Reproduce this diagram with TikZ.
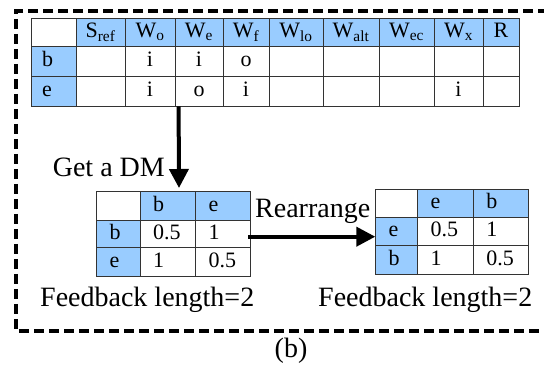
\documentclass[tikz,border=0pt]{standalone}
\usepackage{fontspec}
\setmainfont{Liberation Serif}
\usetikzlibrary{arrows.meta}
\definecolor{hdr}{HTML}{99CCFF}
\definecolor{cellrule}{HTML}{333333}

% horizontal padding of left-aligned cell text
\def\padx{11}
% \tcell{name}{x0}{y0}{x1}{y1}{options}{text}: one table cell
\newcommand\tcell[7]{%
  \pgfmathsetmacro\cw{#4-#2}%
  \pgfmathsetmacro\chh{#5-#3}%
  \pgfmathsetmacro\tw{#4-#2-2*\padx}%
  \node[cellbox,minimum width=\cw pt,minimum height=\chh pt,#6] (#1)
    at ({(#2+#4)/2},{(#3+#5)/2}) {#7};}

\tikzset{
  cellbox/.style={draw=cellrule, line width=0.8pt, fill=white, inner sep=0pt,
    text height=15pt, text depth=4pt, font=\fontsize{22}{26}\selectfont},
  lft/.style={inner xsep=\padx pt, text width=\tw pt, align=left},
  bigtext/.style={inner sep=0pt, font=\fontsize{28}{32}\selectfont},
  bigarrow/.style={line width=4pt, -{Triangle[length=19pt,width=19pt]}},
  frame/.style={line width=3.5pt, dash pattern=on 10pt off 5pt}
}

\begin{document}
\begin{tikzpicture}[x=1pt,y=-1pt]
\useasboundingbox (0,0) rectangle (544,371);

% dashed frame (open on the right)
\draw[frame] (548,11) -- (16,11) -- (16,331) -- (548,331);

% ---- window table ----
\tcell{T0}{31}{18}{76}{46}{}{}
\foreach \n/\a/\b/\t in {1/76/125/{S\textsubscript{ref}},2/125/175/{W\textsubscript{o}},
  3/175/223/{W\textsubscript{e}},4/223/269/{W\textsubscript{f}},5/269/323/{W\textsubscript{lo}},
  6/323/379/{W\textsubscript{alt}},7/379/434/{W\textsubscript{ec}},8/434/483/{W\textsubscript{x}},
  9/483/519/R}
  {\tcell{T\n}{\a}{18}{\b}{46}{fill=hdr}{\t}}
\tcell{B0}{31}{46}{76}{76}{fill=hdr,lft}{b}
\foreach \n/\a/\b/\t in {1/76/125/{},2/125/175/i,3/175/223/i,4/223/269/o,5/269/323/{},
  6/323/379/{},7/379/434/{},8/434/483/{},9/483/519/{}}
  {\tcell{B\n}{\a}{46}{\b}{76}{}{\t}}
\tcell{E0}{31}{76}{76}{106}{fill=hdr,lft}{e}
\foreach \n/\a/\b/\t in {1/76/125/{},2/125/175/i,3/175/223/o,4/223/269/i,5/269/323/{},
  6/323/379/{},7/379/434/{},8/434/483/i,9/483/519/{}}
  {\tcell{E\n}{\a}{76}{\b}{106}{}{\t}}

% ---- decision matrix ----
\def\padx{13}
\tcell{DH0}{96.7}{191.7}{140}{220}{}{}
\tcell{DH1}{140}{191.7}{195.7}{220}{fill=hdr,lft}{b}
\tcell{DH2}{195.7}{191.7}{250}{220}{fill=hdr,lft}{e}
\tcell{DB0}{96.7}{220}{140}{247.7}{fill=hdr,lft}{b}
\tcell{DB1}{140}{220}{195.7}{247.7}{lft}{0.5}
\tcell{DB2}{195.7}{220}{250}{247.7}{lft}{1}
\tcell{DE0}{96.7}{247.7}{140}{276}{fill=hdr,lft}{e}
\tcell{DE1}{140}{247.7}{195.7}{276}{lft}{1}
\tcell{DE2}{195.7}{247.7}{250}{276}{lft}{0.5}

% ---- rearranged matrix ----
\tcell{RH0}{375.7}{189}{417.7}{217.3}{}{}
\tcell{RH1}{417.7}{189}{473.3}{217.3}{fill=hdr,lft}{e}
\tcell{RH2}{473.3}{189}{528.3}{217.3}{fill=hdr,lft}{b}
\tcell{RE0}{375.7}{217.3}{417.7}{245.7}{fill=hdr,lft}{e}
\tcell{RE1}{417.7}{217.3}{473.3}{245.7}{lft}{0.5}
\tcell{RE2}{473.3}{217.3}{528.3}{245.7}{lft}{1}
\tcell{RB0}{375.7}{245.7}{417.7}{274}{fill=hdr,lft}{b}
\tcell{RB1}{417.7}{245.7}{473.3}{274}{lft}{1}
\tcell{RB2}{473.3}{245.7}{528.3}{274}{lft}{0.5}

% ---- labels ----
\node[bigtext, anchor=base east] (getdm) at (165,177) {Get a DM};
\node[bigtext, anchor=base west] (rearr) at (255,218) {Rearrange};
\node[bigtext, anchor=base west] (fb1) at (40,307) {Feedback length=2};
\node[bigtext, anchor=base west] (fb2) at (318,307) {Feedback length=2};
\node[bigtext, anchor=base] (cap) at (291,358) {(b)};

% ---- arrows ----
\coordinate (dmin) at (179,188);
\draw[bigarrow] ([xshift=4pt]E3.south west) -- (dmin);
\coordinate (rstart) at (248,236.7);
\draw[bigarrow] (rstart) -- (rstart -| RE0.west);
\end{tikzpicture}
\end{document}
